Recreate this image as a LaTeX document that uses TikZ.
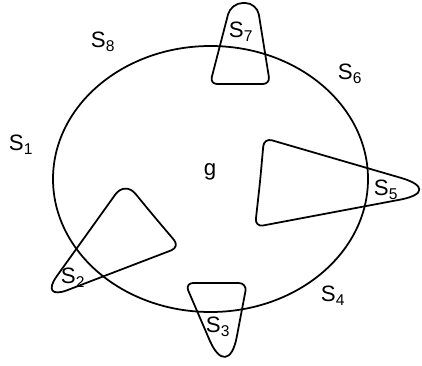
\documentclass[tikz,border=0pt]{standalone}
\usepackage{fontspec}
\setsansfont{Liberation Sans}
\usetikzlibrary{calc}
\begin{document}
\begin{tikzpicture}[x=0.3mm,y=-0.3mm,
  outline/.style={line width=1.5pt,line join=round},
  set label/.style={font=\sffamily\fontsize{19}{21}\selectfont,inner sep=0pt}
  ]
  \useasboundingbox (0,0) rectangle (422,365);
  % the set g
  \draw[outline] (210.5,179) ellipse [x radius=157.5,y radius=133];
  % S7 on top
  \draw[outline] (240,84) [rounded corners=6pt] -- (210,84)
    [rounded corners=10pt] -- (231,3) -- (257,3)
    [rounded corners=6pt] -- (270,84) -- cycle;
  % S5 on the right
  \draw[outline] (260,182) [rounded corners=7pt] -- (264,138)
    [rounded corners=40pt] -- (446,191)
    [rounded corners=7pt] -- (255,227) -- cycle;
  % S3 at the bottom
  \draw[outline] (216,283) [rounded corners=7pt] -- (247,283)
    [rounded corners=40pt] -- (228,383)
    [rounded corners=7pt] -- (185,283) -- cycle;
  % S2 at the lower left
  \draw[outline] (152,214) [rounded corners=8pt] -- (180,247)
    [rounded corners=26pt] -- (39,301)
    [rounded corners=14pt] -- (125,181) -- cycle;
  % labels
  \node[set label] (s8) at (103,42) {S\textsubscript{8}};
  \node[set label] (s1) at (21,145) {S\textsubscript{1}};
  \node[set label] (s7) at (241,32) {S\textsubscript{7}};
  \node[set label] (s6) at (350,74) {S\textsubscript{6}};
  \node[set label] (g) at (210,172) {g};
  \node[set label] (s5) at (386,190) {S\textsubscript{5}};
  \node[set label] (s4) at (333,296) {S\textsubscript{4}};
  \node[set label] (s3) at (218,327) {S\textsubscript{3}};
  \node[set label] (s2) at (73,278) {S\textsubscript{2}};
\end{tikzpicture}
\end{document}
